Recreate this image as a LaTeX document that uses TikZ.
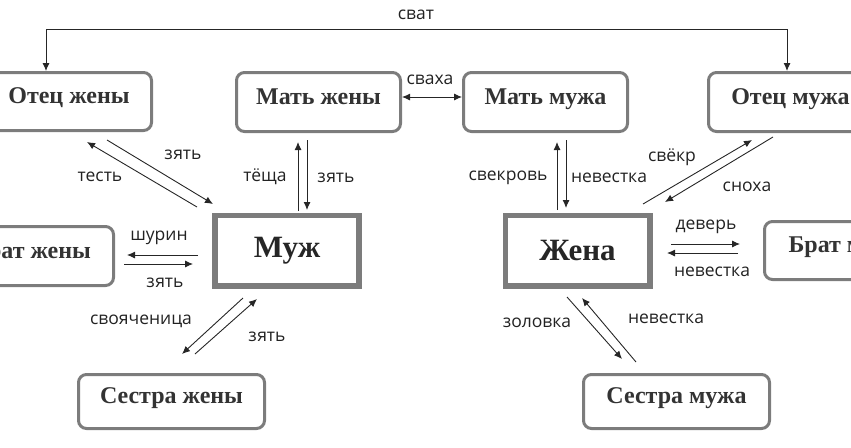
\documentclass[tikz,border=0pt]{standalone}
\usepackage{fontspec}
\setmainfont{Liberation Serif}
\newfontfamily\lblfont{Open Sans}
\usetikzlibrary{arrows.meta}
\definecolor{boxgray}{HTML}{7C7C7C}
\definecolor{txtgray}{HTML}{333333}
\definecolor{lblcol}{HTML}{222222}
\begin{document}
\begin{tikzpicture}[x=1pt,y=-1pt,
  box/.style={draw=boxgray, line width=3pt, rounded corners=8pt, fill=white,
    font=\bfseries\fontsize{24}{24}\selectfont, text=txtgray, inner sep=0pt,
    text height=0.7em, text depth=0.3em},
  mainbox/.style={draw=boxgray, line width=5pt, fill=white,
    font=\bfseries\fontsize{31}{31}\selectfont, text=black!85, inner sep=0pt},
  lbl/.style={font=\lblfont\fontsize{17.5}{17.5}\selectfont, text=lblcol, inner sep=0pt},
  arr/.style={-{Latex[length=8pt,width=7pt]}, line width=0.9pt, black!85},
  darr/.style={{Latex[length=8pt,width=7pt]}-{Latex[length=8pt,width=7pt]}, line width=0.9pt, black!85}]
\useasboundingbox (0,0) rectangle (851,447);
\clip (0,0) rectangle (851,447);

% boxes
\node[box, minimum width=165, minimum height=58] (oz) at (69,101.5) {Отец жены};
\node[box, minimum width=164, minimum height=59] (mz) at (318.5,102) {Мать жены};
\node[box, minimum width=164, minimum height=59] (mm) at (545.5,102) {Мать мужа};
\node[box, minimum width=164, minimum height=59] (om) at (790.5,102) {Отец мужа};
\node[box, minimum width=164, minimum height=59] (bz) at (31.5,256) {Брат жены};
\node[box, minimum width=164, minimum height=58] (bm) at (846.5,250.5) {Брат мужа};
\node[box, minimum width=186, minimum height=54] (sz) at (171.5,401.5) {Сестра жены};
\node[box, minimum width=186, minimum height=54] (sm) at (676.5,401.5) {Сестра мужа};
\node[mainbox, minimum width=145, minimum height=71] (muzh) at (287,250.5) {Муж};
\node[mainbox, minimum width=145, minimum height=71] (zhena) at (577.5,250.5) {Жена};
\draw[boxgray, line width=1.3pt] ([shift={(5,5)}]muzh.north west) rectangle ([shift={(-5,-5)}]muzh.south east);
\draw[boxgray, line width=1.3pt] ([shift={(5,5)}]zhena.north west) rectangle ([shift={(-5,-5)}]zhena.south east);

% сват
\coordinate (s1) at (46,29);
\coordinate (s2) at (787,29);
\draw[darr] (s1 |- oz.north) -- (s1) -- (s2) -- (s2 |- om.north);
\node[lbl] (lsvat) at (416,15) {сват};

% сваха
\draw[darr] (mz.east |- 0,97) -- (mm.west |- 0,97);
\node[lbl] (lsvaha) at (430,80) {сваха};

% Отец жены -- Муж
\coordinate (a1s) at (197,207); \coordinate (a1e) at (87,142);
\coordinate (a2s) at (107,140); \coordinate (a2e) at (213,204);
\draw[arr] (a1s) -- (a1e);
\draw[arr] (a2s) -- (a2e);
\node[lbl] (ltest) at (100,177) {тесть};
\node[lbl] (lzyat1) at (183,155) {зять};

% Мать жены -- Муж
\coordinate (b1s) at (298,211); \coordinate (b1e) at (298,142);
\coordinate (b2s) at (307,140); \coordinate (b2e) at (307,210);
\draw[arr] (b1s) -- (b1e);
\draw[arr] (b2s) -- (b2e);
\node[lbl] (ltescha) at (265,177) {тёща};
\node[lbl] (lzyat2) at (336,178) {зять};

% Мать мужа -- Жена
\coordinate (c1s) at (557,210); \coordinate (c1e) at (557,142);
\coordinate (c2s) at (566,140); \coordinate (c2e) at (566,208);
\draw[arr] (c1s) -- (c1e);
\draw[arr] (c2s) -- (c2e);
\node[lbl] (lsvekrov) at (508,178) {свекровь};
\node[lbl] (lnev1) at (609,178) {невестка};

% Отец мужа -- Жена
\coordinate (d1s) at (643,204); \coordinate (d1e) at (752,140);
\coordinate (d2s) at (773,137); \coordinate (d2e) at (665,202);
\draw[arr] (d1s) -- (d1e);
\draw[arr] (d2s) -- (d2e);
\node[lbl] (lsvekr) at (672,157) {свёкр};
\node[lbl] (lsnoha) at (747,187) {сноха};

% Брат жены -- Муж
\coordinate (e1s) at (198,255); \coordinate (e1e) at (127,255);
\coordinate (e2s) at (124,264); \coordinate (e2e) at (193,264);
\draw[arr] (e1s) -- (e1e);
\draw[arr] (e2s) -- (e2e);
\node[lbl] (lshurin) at (159,238) {шурин};
\node[lbl] (lzyat3) at (165,283) {зять};

% Жена -- Брат мужа
\coordinate (f1s) at (671,244); \coordinate (f1e) at (740,244);
\coordinate (f2s) at (738,253); \coordinate (f2e) at (667,253);
\draw[arr] (f1s) -- (f1e);
\draw[arr] (f2s) -- (f2e);
\node[lbl] (ldever) at (706,227) {деверь};
\node[lbl] (lnev2) at (712,272) {невестка};

% Сестра жены -- Муж
\coordinate (g1s) at (243,298); \coordinate (g1e) at (182,354);
\coordinate (g2s) at (195,354); \coordinate (g2e) at (257,299);
\draw[arr] (g1s) -- (g1e);
\draw[arr] (g2s) -- (g2e);
\node[lbl] (lsvoya) at (141,321) {свояченица};
\node[lbl] (lzyat4) at (267,337) {зять};

% Сестра мужа -- Жена
\coordinate (h1s) at (567,297); \coordinate (h1e) at (622,359);
\coordinate (h2s) at (636,362); \coordinate (h2e) at (582,298);
\draw[arr] (h1s) -- (h1e);
\draw[arr] (h2s) -- (h2e);
\node[lbl] (lzolovka) at (537,323) {золовка};
\node[lbl] (lnev3) at (666,319) {невестка};
\end{tikzpicture}
\end{document}
